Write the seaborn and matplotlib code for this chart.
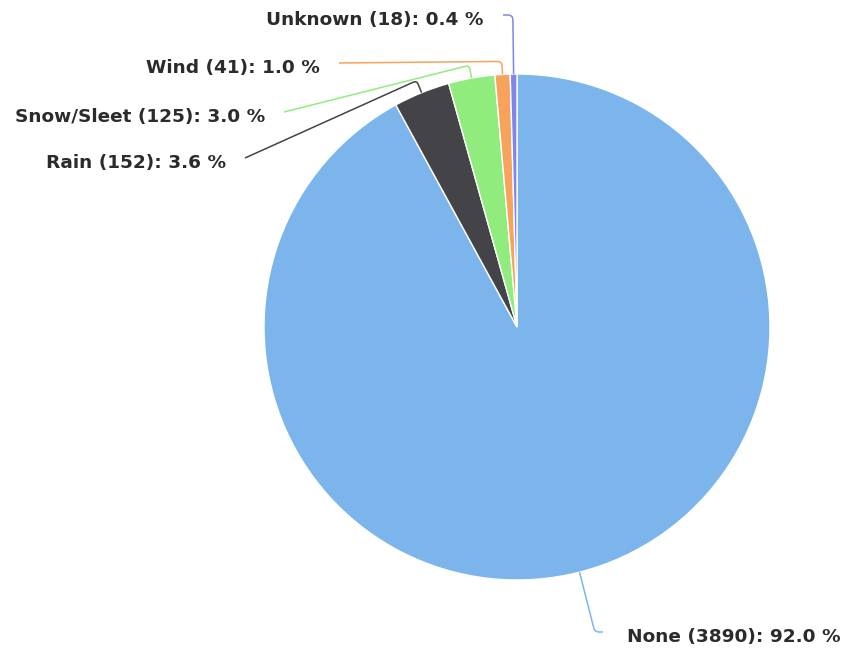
import numpy as np
import matplotlib
matplotlib.use("Agg")
import matplotlib.pyplot as plt
from matplotlib.path import Path
from matplotlib.patches import PathPatch
import seaborn as sns

# Weather conditions recorded for the incidents
conditions = ["None", "Rain", "Snow/Sleet", "Wind", "Unknown"]
counts = [3890, 152, 125, 41, 18]
colors = ["#7cb5ec", "#434348", "#90ed7d", "#f7a35c", "#8085e9"]

sns.set_theme(style="white")
plt.rcParams["font.family"] = ["DejaVu Sans"]

W, H = 848, 650
fig = plt.figure(figsize=(W / 100, H / 100), dpi=100)
ax = fig.add_axes([0, 0, 1, 1])


def to_ax(x, y):
    """Convert top-left pixel layout coordinates to axes data coordinates."""
    return x, H - y


cx, cy = to_ax(517, 327)
R = 253

wedges, _ = ax.pie(
    counts,
    colors=colors,
    startangle=90,
    counterclock=False,
    center=(cx, cy),
    radius=R,
    wedgeprops=dict(edgecolor="white", linewidth=1),
)
ax.set_xlim(0, W)
ax.set_ylim(0, H)
ax.set_aspect("equal")
ax.axis("off")

total = sum(counts)
# label anchor (pixel layout), horizontal alignment
label_layout = {
    "None": ((627, 637), "left"),
    "Rain": ((226, 163), "right"),
    "Snow/Sleet": ((265, 117), "right"),
    "Wind": ((320, 68), "right"),
    "Unknown": ((484, 20), "right"),
}


def rounded_path(p0, k, p1, rc):
    p0, k, p1 = map(np.asarray, (p0, k, p1))
    d0 = k - p0
    d1 = p1 - k
    l0, l1 = np.linalg.norm(d0), np.linalg.norm(d1)
    rc = min(rc, 0.5 * l0, 0.5 * l1)
    a = k - d0 / l0 * rc
    b = k + d1 / l1 * rc
    verts = [p0, a, k, b, p1]
    codes = [Path.MOVETO, Path.LINETO, Path.CURVE3, Path.CURVE3, Path.LINETO]
    return Path(verts, codes)


for w, name, n, col in zip(wedges, conditions, counts, colors):
    mid = np.deg2rad(0.5 * (w.theta1 + w.theta2))
    ux, uy = np.cos(mid), np.sin(mid)
    edge = (cx + R * ux, cy + R * uy)

    (lx, ly), ha = label_layout[name]
    text = f"{name} ({n}): {100 * n / total:.1f} %"
    tx, ty = to_ax(lx, ly)
    ax.text(tx, ty, text, ha=ha, va="center", fontsize=13.3,
            fontweight="bold", color="#2b2b2b")

    # connector start just beside the label
    sx = lx + 19 if ha == "right" else lx - 24
    start = to_ax(sx, ly - 5)

    # knee on the slice's mid ray
    knee_r = R + 13
    ky = cy + knee_r * uy
    if abs(start[1] - cy) > abs(ky - cy) + 20:
        knee_r = abs(start[1] - cy) / abs(uy)
    knee = (cx + knee_r * ux, cy + knee_r * uy)

    rc = 25 if name in ("None", "Unknown") else 4
    path = rounded_path(start, knee, edge, rc)
    ax.add_patch(PathPatch(path, facecolor="none", edgecolor=col,
                           linewidth=1.1))

fig.savefig("out.png", dpi=100)
